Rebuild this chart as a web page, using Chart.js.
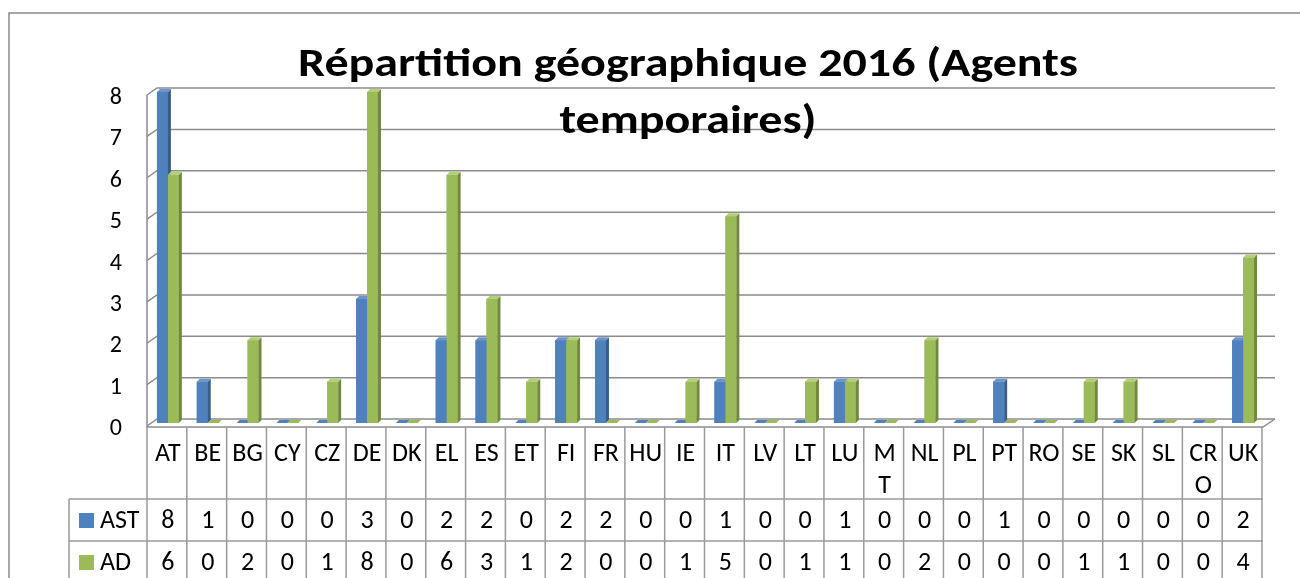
<!DOCTYPE html>
<html>
<head>
<meta charset="utf-8">
<script src="https://cdn.jsdelivr.net/npm/chart.js@4.4.0/dist/chart.umd.min.js"></script>
<style>
  html, body { margin: 0; padding: 0; background: #fff; overflow: hidden; }
</style>
</head>
<body>
<canvas id="myChart" width="1300" height="578"></canvas>
<script>
const categories = ['AT', 'BE', 'BG', 'CY', 'CZ', 'DE', 'DK', 'EL', 'ES', 'ET', 'FI', 'FR', 'HU', 'IE', 'IT',
  'LV', 'LT', 'LU', 'MT', 'NL', 'PL', 'PT', 'RO', 'SE', 'SK', 'SL', 'CRO', 'UK'];
const astValues = [8, 1, 0, 0, 0, 3, 0, 2, 2, 0, 2, 2, 0, 0, 1, 0, 0, 1, 0, 0, 0, 1, 0, 0, 0, 0, 0, 2];
const adValues = [6, 0, 2, 0, 1, 8, 0, 6, 3, 1, 2, 0, 0, 1, 5, 0, 1, 1, 0, 2, 0, 0, 0, 1, 1, 0, 0, 4];
const yTicks = [0, 1, 2, 3, 4, 5, 6, 7, 8];
const titleLines = ['Répartition géographique 2016 (Agents', 'temporaires)'];

const FONT = 'Carlito, Lato, sans-serif';
const GRID = '#8c8c8c';

// fake 3d: redraw every bar with a dark side and a light top,
// AST first so the AD bar sits over the AST side face
const bar3d = {
  id: 'bar3d',
  afterDatasetsDraw(chart) {
    const { ctx } = chart;
    const d = 3;
    ctx.save();
    chart.data.datasets.forEach((ds, i) => {
      chart.getDatasetMeta(i).data.forEach((bar) => {
        const { x, y, base, width } = bar.getProps(['x', 'y', 'base', 'width'], true);
        const x0 = x - width / 2, x1 = x + width / 2;
        if (Math.abs(base - y) < 1) {
          ctx.fillStyle = ds.backgroundColor;
          ctx.beginPath();
          ctx.moveTo(x0, base);
          ctx.lineTo(x1, base);
          ctx.lineTo(x1 + d, base - d);
          ctx.lineTo(x0 + d, base - d);
          ctx.fill();
          return;
        }
        ctx.fillStyle = ds.backgroundColor;
        ctx.fillRect(x0, y, width, base - y);
        ctx.fillStyle = ds.sideColor;
        ctx.beginPath();
        ctx.moveTo(x1, y);
        ctx.lineTo(x1 + d, y - d);
        ctx.lineTo(x1 + d, base - d);
        ctx.lineTo(x1, base);
        ctx.fill();
        ctx.fillStyle = ds.topColor;
        ctx.beginPath();
        ctx.moveTo(x0, y);
        ctx.lineTo(x1, y);
        ctx.lineTo(x1 + d, y - d);
        ctx.lineTo(x0 + d, y - d);
        ctx.fill();
      });
    });
    ctx.restore();
  },
};

const walls = {
  id: 'walls',
  beforeDatasetsDraw(chart) {
    const { ctx, chartArea: { left, right }, scales: { y } } = chart;
    ctx.save();
    ctx.strokeStyle = GRID;
    ctx.lineWidth = 1.5;
    yTicks.forEach((v) => {
      const py = y.getPixelForValue(v);
      ctx.beginPath();
      ctx.moveTo(left - 1, py + 3);
      ctx.lineTo(left + 9, py - 4);
      ctx.lineTo(right + 12, py - 4);
      ctx.stroke();
    });
    const top = y.getPixelForValue(8), zero = y.getPixelForValue(0);
    ctx.beginPath();
    ctx.moveTo(left - 1, top + 3);
    ctx.lineTo(left - 1, zero + 4);
    ctx.lineTo(right, zero + 4);
    ctx.lineTo(right + 12, zero - 4);
    ctx.stroke();
    ctx.restore();
  },
};

function wrapLabel(ctx, text, maxWidth) {
  if (ctx.measureText(text).width <= maxWidth) return [text];
  const lines = [];
  let cur = '';
  for (const ch of text) {
    if (cur && ctx.measureText(cur + ch).width > maxWidth) {
      lines.push(cur);
      cur = ch;
    } else cur += ch;
  }
  lines.push(cur);
  return lines;
}

const tableAndText = {
  id: 'tableAndText',
  afterDraw(chart) {
    const { ctx, chartArea: { left, right }, scales: { x, y } } = chart;
    const slot = (right - left) / categories.length;
    const headTop = y.getPixelForValue(0) + 4;
    const row1 = 499, row2 = 541, bottom = 600, legLeft = 69;
    ctx.save();

    // outer frame
    ctx.strokeStyle = '#8a8a8a';
    ctx.lineWidth = 1.5;
    ctx.strokeRect(9, 13, 1400, 700);

    // table grid
    ctx.strokeStyle = '#9a9a9a';
    ctx.lineWidth = 1.5;
    ctx.beginPath();
    for (let k = 0; k <= categories.length; k++) {
      const px = left - 1 + k * slot;
      ctx.moveTo(px, headTop);
      ctx.lineTo(px, bottom);
    }
    ctx.moveTo(legLeft, row1);
    ctx.lineTo(legLeft, bottom);
    ctx.moveTo(legLeft, row1);
    ctx.lineTo(right, row1);
    ctx.moveTo(legLeft, row2);
    ctx.lineTo(right, row2);
    ctx.stroke();

    // table text
    ctx.fillStyle = '#000';
    ctx.textAlign = 'center';
    ctx.textBaseline = 'middle';
    ctx.font = '26px ' + FONT;
    categories.forEach((c, j) => {
      const cx = x.getPixelForValue(j);
      wrapLabel(ctx, c, slot - 5.5).forEach((ln, k) => ctx.fillText(ln, cx, 454 + k * 32));
      ctx.fillText(String(astValues[j]), cx, 521);
      ctx.fillText(String(adValues[j]), cx, 563);
    });

    // legend keys in the table
    const ds = chart.data.datasets;
    [521, 563].forEach((cy, i) => {
      ctx.fillStyle = ds[i].backgroundColor;
      ctx.fillRect(79, cy - 8, 15, 15);
      ctx.fillStyle = '#000';
      ctx.textAlign = 'left';
      ctx.fillText(ds[i].label, 100, cy);
    });

    // y labels
    ctx.font = '24px ' + FONT;
    ctx.textAlign = 'right';
    yTicks.forEach((v) => ctx.fillText(String(v), 122, y.getPixelForValue(v) + 6));

    // title, a bit wider than the plain font
    ctx.font = 'bold 40px ' + FONT;
    ctx.textAlign = 'center';
    ctx.textBaseline = 'alphabetic';
    titleLines.forEach((t, i) => {
      ctx.save();
      ctx.translate(688, 76 + i * 57);
      ctx.scale(1.2, 1);
      ctx.fillText(t, 0, 0);
      ctx.restore();
    });
    ctx.restore();
  },
};

new Chart(document.getElementById('myChart').getContext('2d'), {
  type: 'bar',
  data: {
    labels: categories,
    datasets: [
      {
        label: 'AST',
        data: astValues,
        backgroundColor: '#4f81bd',
        sideColor: '#385d8a',
        topColor: '#6b95cc',
      },
      {
        label: 'AD',
        data: adValues,
        backgroundColor: '#9bbb59',
        sideColor: '#71893f',
        topColor: '#b3cf78',
      },
    ],
  },
  options: {
    responsive: false,
    animation: false,
    layout: { padding: { left: 148, right: 37, top: 92, bottom: 155 } },
    categoryPercentage: 0.55,
    barPercentage: 1,
    scales: {
      x: { display: false },
      y: { display: false, min: 0, max: 8 },
    },
    plugins: {
      legend: { display: false },
      title: { display: false },
      tooltip: { enabled: false },
    },
  },
  plugins: [walls, bar3d, tableAndText],
});
</script>
</body>
</html>
